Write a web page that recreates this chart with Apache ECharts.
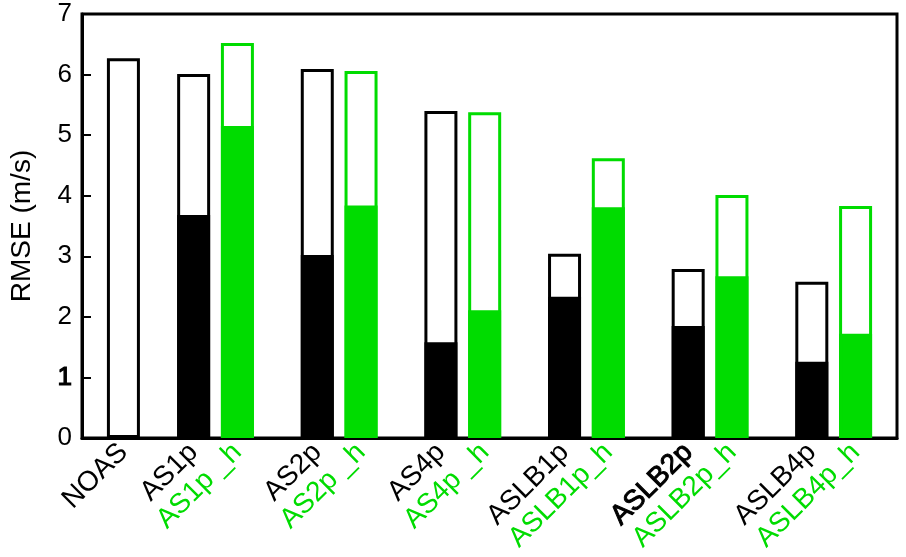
<!DOCTYPE html>
<html>
<head>
<meta charset="utf-8">
<script src="https://cdn.jsdelivr.net/npm/echarts@6/dist/echarts.min.js"></script>
<style>
  html, body { margin: 0; padding: 0; background: #fff; }
  #chart { width: 906px; height: 557px; }
</style>
</head>
<body>
<div id="chart"></div>
<script>
// experiments, in the order they sit along the x axis
const names = ['NOAS', 'AS1p', 'AS1p _h', 'AS2p', 'AS2p _h', 'AS4p', 'AS4p _h',
  'ASLB1p', 'ASLB1p_h', 'ASLB2p', 'ASLB2p_h', 'ASLB4p', 'ASLB4p_h'];
// total RMSE (outline height)
const totals = [6.27, 6.01, 6.52, 6.09, 6.06, 5.40, 5.38, 3.04, 4.62, 2.79, 4.01, 2.58, 3.83];
// filled part of each bar (NOAS has none)
const fills = [null, 3.68, 5.15, 3.02, 3.84, 1.58, 2.11, 2.33, 3.81, 1.85, 2.67, 1.26, 1.72];
const yTicks = [0, 1, 2, 3, 4, 5, 6, 7];

const BLACK = '#000';
const GREEN = '#00dc00';

// bar layout: NOAS on its own, then pairs (plain, _h) around group centres 1..6
const noasPos = 0.255;
const pairHalf = 0.177;
const pos = names.map((n, i) => {
  if (i === 0) return noasPos;
  const g = Math.ceil(i / 2);
  return i % 2 === 1 ? g - pairHalf : g + pairHalf;
});
const colorOf = i => (i > 0 && i % 2 === 0) ? GREEN : BLACK;

const chart = echarts.init(document.getElementById('chart'), null, { renderer: 'canvas' });

const outlineData = totals.map((v, i) => ({
  value: [pos[i], v],
  itemStyle: { color: '#fff', borderColor: colorOf(i) }
}));
const fillData = fills.map((v, i) => v == null ? null : ({
  value: [pos[i], v],
  itemStyle: { color: colorOf(i), borderColor: colorOf(i) }
})).filter(d => d);

function labelFor(value) {
  let best = 0;
  pos.forEach((p, i) => { if (Math.abs(p - value) < Math.abs(pos[best] - value)) best = i; });
  const n = names[best];
  if (n === 'ASLB2p') return '{kb|' + n + '}';
  return (colorOf(best) === GREEN ? '{g|' : '{k|') + n + '}';
}

const font = 'Liberation Sans, Arial, Helvetica, sans-serif';

chart.setOption({
  animation: false,
  grid: {
    left: 80, right: 9, top: 14, bottom: 119,
    show: true, borderColor: BLACK, borderWidth: 3, backgroundColor: 'transparent'
  },
  xAxis: {
    type: 'value',
    min: -0.08,
    max: 6.512,
    splitLine: { show: false },
    axisTick: { show: false },
    axisLine: { show: true, onZero: false, lineStyle: { color: BLACK, width: 3 } },
    axisLabel: {
      customValues: pos,
      rotate: 45,
      margin: 10,
      formatter: labelFor,
      rich: {
        k: { color: BLACK, fontSize: 28, fontFamily: font },
        kb: { color: BLACK, fontSize: 28, fontFamily: font, textBorderColor: BLACK, textBorderWidth: 1 },
        g: { color: GREEN, fontSize: 28, fontFamily: font }
      }
    }
  },
  yAxis: {
    type: 'value',
    min: yTicks[0],
    max: yTicks[yTicks.length - 1],
    interval: 1,
    name: 'RMSE (m/s)',
    nameLocation: 'middle',
    nameGap: 46,
    nameTextStyle: { color: BLACK, fontSize: 28, fontFamily: font },
    splitLine: { show: false },
    axisLine: { show: true, onZero: false, lineStyle: { color: BLACK, width: 3 } },
    axisTick: { show: true, inside: true, length: 9, lineStyle: { color: BLACK, width: 2 } },
    axisLabel: {
      color: BLACK, fontSize: 26, fontFamily: font, margin: 10,
      formatter: v => v === 1 ? '{b|1}' : String(v),
      rich: { b: { fontSize: 26, fontFamily: font, color: BLACK, textBorderColor: BLACK, textBorderWidth: 1.2 } }
    }
  },
  series: [
    {
      name: 'total',
      type: 'bar',
      barWidth: 33,
      barGap: '-100%',
      itemStyle: { borderWidth: 3 },
      data: outlineData
    },
    {
      name: 'filled',
      type: 'bar',
      barWidth: 33,
      barGap: '-100%',
      itemStyle: { borderWidth: 3 },
      data: fillData
    }
  ]
});
</script>
</body>
</html>
